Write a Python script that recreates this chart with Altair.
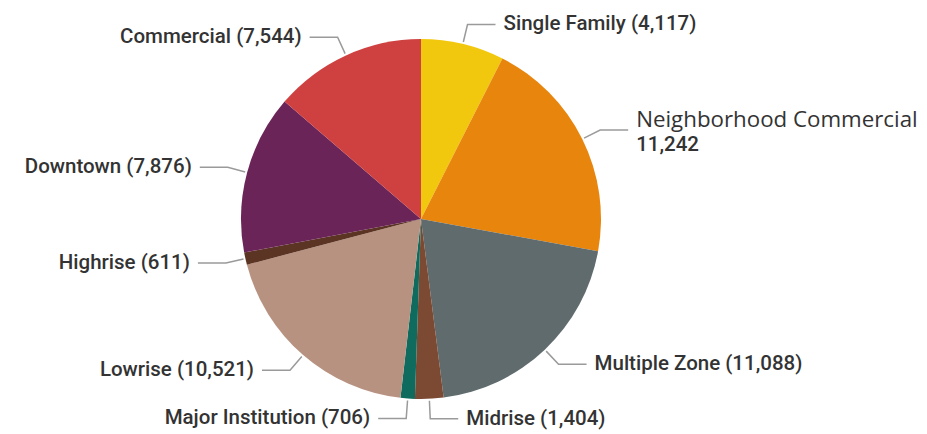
import altair as alt
import numpy as np
import pandas as pd

categories = ["Single Family", "Neighborhood Commercial", "Multiple Zone", "Midrise",
              "Major Institution", "Lowrise", "Highrise", "Downtown", "Commercial"]
values = [4117, 11242, 11088, 1404, 706, 10521, 611, 7876, 7544]
colors = ["#F2C80F", "#E8850D", "#5F6B6D", "#7C4A33", "#0E6B5E",
          "#B89280", "#5C3424", "#6B2457", "#CF4040"]

# geometry (pixels)
CX, CY = 413, 211          # pie centre inside the plot area
W, H = 911, 426
R = 180
R_EDGE, R_ELBOW, SEG, GAP = 182, 200, 28, 8

vals = np.array(values, dtype=float)
total = vals.sum()
start = np.cumsum(vals) - vals
mid = (start + vals / 2) / total * 2 * np.pi

df = pd.DataFrame({"category": categories, "value": values, "idx": range(len(values))})

line_rows, label_rows = [], []
for i, cat in enumerate(categories):
    s, c = np.sin(mid[i]), np.cos(mid[i])
    side = 1 if s > 0 else -1
    ex, ey = R_ELBOW * s, R_ELBOW * c
    line_rows += [
        {"category": cat, "pt": 0, "x": R_EDGE * s, "y": R_EDGE * c},
        {"category": cat, "pt": 1, "x": ex, "y": ey},
        {"category": cat, "pt": 2, "x": ex + side * SEG, "y": ey},
    ]
    label_rows.append({"category": cat, "x": ex + side * (SEG + GAP), "y": ey,
                       "side": "right" if side > 0 else "left",
                       "label": f"{cat} ({values[i]:,})",
                       "valtxt": f"{values[i]:,}"})
lines = pd.DataFrame(line_rows)
labels = pd.DataFrame(label_rows)

xs = alt.Scale(domain=[-CX, W - CX])
ys = alt.Scale(domain=[-(H - CY), CY])
X = alt.X("x:Q", scale=xs, axis=None)
Y = alt.Y("y:Q", scale=ys, axis=None)

arcs = alt.Chart(df).mark_arc(radius=R).encode(
    theta=alt.Theta("value:Q", stack=True),
    order=alt.Order("idx:Q"),
    color=alt.Color("category:N", scale=alt.Scale(domain=categories, range=colors), legend=None),
    x=alt.value(CX), y=alt.value(CY),
)

leaders = alt.Chart(lines).mark_line(color="#9A9A9A", strokeWidth=1.5).encode(
    x=X, y=Y, detail="category:N", order="pt:Q",
)

FONT = "Roboto"
FS = 20.5
TXT = "#333333"
normal = labels["category"] != "Neighborhood Commercial"
right = alt.Chart(labels[normal & (labels["side"] == "right")]).mark_text(
    align="left", baseline="middle", font=FONT, fontSize=FS, fontWeight=500, color=TXT
).encode(x=X, y=Y, text="label:N")
left = alt.Chart(labels[normal & (labels["side"] == "left")]).mark_text(
    align="right", baseline="middle", font=FONT, fontSize=FS, fontWeight=500, color=TXT
).encode(x=X, y=Y, text="label:N")

nc = labels[~normal]
nc_name = alt.Chart(nc).mark_text(
    align="left", baseline="middle", font="Open Sans", fontSize=22.3, color=TXT, dy=-10
).encode(x=X, y=Y, text="category:N")
nc_val = alt.Chart(nc).mark_text(
    align="left", baseline="middle", font=FONT, fontSize=FS, fontWeight=500, color=TXT, dy=15
).encode(x=X, y=Y, text="valtxt:N")

chart = alt.layer(arcs, leaders, right, left, nc_name, nc_val).properties(
    width=W, height=H, padding=0, autosize=alt.AutoSizeParams(type="none"),
    background="white",
).configure_view(stroke=None)

chart.save("out.html", embed_options={"renderer": "svg", "actions": False})
